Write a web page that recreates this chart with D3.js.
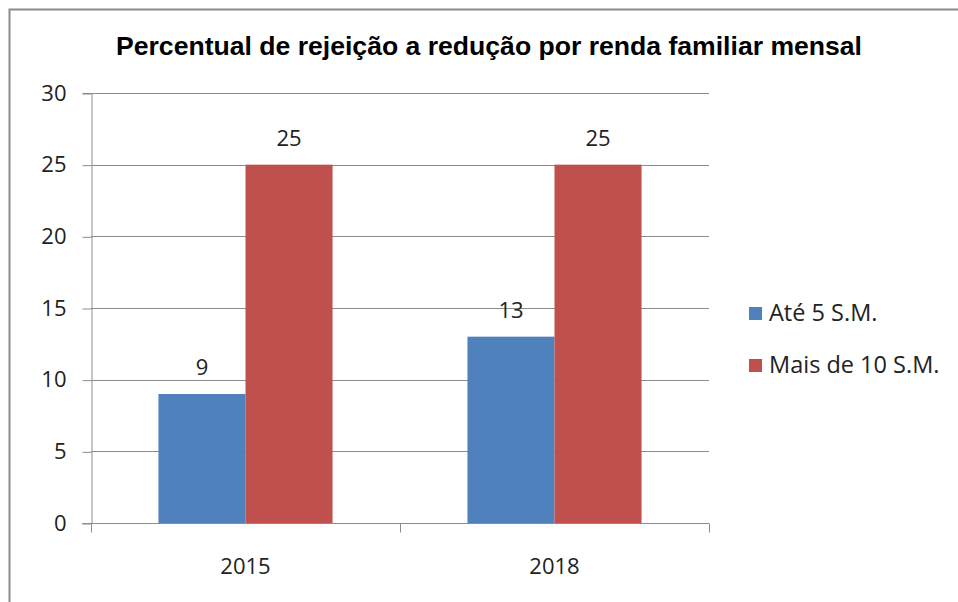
<!DOCTYPE html>
<html>
<head>
<meta charset="utf-8">
<script src="https://cdn.jsdelivr.net/npm/d3@7"></script>
<style>
  body { margin: 0; background: #fff; }
  svg text { font-family: "Open Sans", "Noto Sans", sans-serif; }
</style>
</head>
<body>
<svg id="chart" width="958" height="602"></svg>
<script>
// data
var years = ["2015", "2018"];
var seriesNames = ["Até 5 S.M.", "Mais de 10 S.M."];
var ate5 = [9, 13];
var mais10 = [25, 25];
var yTicks = [0, 5, 10, 15, 20, 25, 30];
var colors = ["#4F81BD", "#C0504D"];

var svg = d3.select("#chart");
var margin = {left: 91, right: 249, top: 93, bottom: 79};
var W = 958, H = 602;
var fs = "22px";

// outer frame
svg.append("rect")
  .attr("x", 9.5).attr("y", 9.5)
  .attr("width", 960).attr("height", 600)
  .attr("fill", "none").attr("stroke", "#8c8c8c").attr("stroke-width", 2);

svg.append("text")
  .attr("x", 489).attr("y", 55)
  .attr("text-anchor", "middle")
  .attr("textLength", 746).attr("lengthAdjust", "spacingAndGlyphs")
  .style("font-family", "'Liberation Sans', Arial, sans-serif")
  .style("font-weight", "bold").style("font-size", "25px")
  .text("Percentual de rejeição a redução por renda familiar mensal");

var x = d3.scaleBand()
  .domain(years)
  .range([margin.left, W - margin.right])
  .paddingInner(0).paddingOuter(0);

var x1 = d3.scaleBand()
  .domain(d3.range(seriesNames.length))
  .range([0, x.bandwidth()])
  .paddingOuter(0.775).paddingInner(0);

var y = d3.scaleLinear().domain([0, 30]).range([H - margin.bottom, margin.top]);

// gridlines
svg.append("g").selectAll("line")
  .data(yTicks.slice(1))
  .enter().append("line")
  .attr("x1", margin.left).attr("x2", W - margin.right)
  .attr("y1", function(d) { return Math.round(y(d)) + 0.5; })
  .attr("y2", function(d) { return Math.round(y(d)) + 0.5; })
  .attr("stroke", "#8c8c8c");

// bars
var rows = years.map(function(yr, i) { return {year: yr, vals: [ate5[i], mais10[i]]}; });
var g = svg.append("g").selectAll("g")
  .data(rows).enter().append("g")
  .attr("transform", function(d) { return "translate(" + x(d.year) + ",0)"; });

g.selectAll("rect")
  .data(function(d) { return d.vals; })
  .enter().append("rect")
  .attr("x", function(d, i) { return x1(i); })
  .attr("width", x1.bandwidth())
  .attr("y", function(d) { return y(d); })
  .attr("height", function(d) { return y(0) - y(d); })
  .attr("fill", function(d, i) { return colors[i]; });

g.selectAll("text")
  .data(function(d) { return d.vals; })
  .enter().append("text")
  .attr("x", function(d, i) { return x1(i) + x1.bandwidth() / 2; })
  .attr("y", function(d) { return y(d) - 19; })
  .attr("text-anchor", "middle")
  .style("font-size", fs).attr("fill", "#222")
  .text(function(d) { return d; });

// y axis
var yAxis = d3.axisLeft(y).tickValues(yTicks).tickSize(9).tickPadding(16);
var ya = svg.append("g")
  .attr("transform", "translate(" + (margin.left + 0.5) + ",0)")
  .call(yAxis);
ya.select(".domain").attr("stroke", "#8c8c8c");
ya.selectAll(".tick line").attr("stroke", "#8c8c8c")
  .attr("transform", "translate(0,0.5)");
ya.selectAll("text").style("font-size", fs).attr("fill", "#222")
  .style("font-family", "'Open Sans', 'Noto Sans', sans-serif");

// x axis
var xa = svg.append("g")
  .attr("transform", "translate(0," + (Math.round(y(0)) + 0.5) + ")");
xa.append("line")
  .attr("x1", margin.left - 9).attr("x2", W - margin.right)
  .attr("stroke", "#8c8c8c");
xa.selectAll("line.tk")
  .data(x.domain().map(function(d) { return x(d); }).concat([W - margin.right]))
  .enter().append("line")
  .attr("class", "tk")
  .attr("x1", function(d) { return Math.round(d) + 0.5; })
  .attr("x2", function(d) { return Math.round(d) + 0.5; })
  .attr("y1", 0).attr("y2", 9)
  .attr("stroke", "#8c8c8c");
xa.selectAll("text")
  .data(years).enter().append("text")
  .attr("x", function(d) { return x(d) + x.bandwidth() / 2; })
  .attr("y", 50)
  .attr("text-anchor", "middle")
  .style("font-size", fs).attr("fill", "#222")
  .text(function(d) { return d; });

// legend
var leg = svg.append("g").selectAll("g")
  .data(seriesNames).enter().append("g")
  .attr("transform", function(d, i) { return "translate(749," + (307 + i * 52) + ")"; });
leg.append("rect").attr("width", 13).attr("height", 13)
  .attr("fill", function(d, i) { return colors[i]; });
leg.append("text").attr("x", 20).attr("y", 14)
  .style("font-size", "23.5px").attr("fill", "#222")
  .text(function(d) { return d; });
</script>
</body>
</html>
